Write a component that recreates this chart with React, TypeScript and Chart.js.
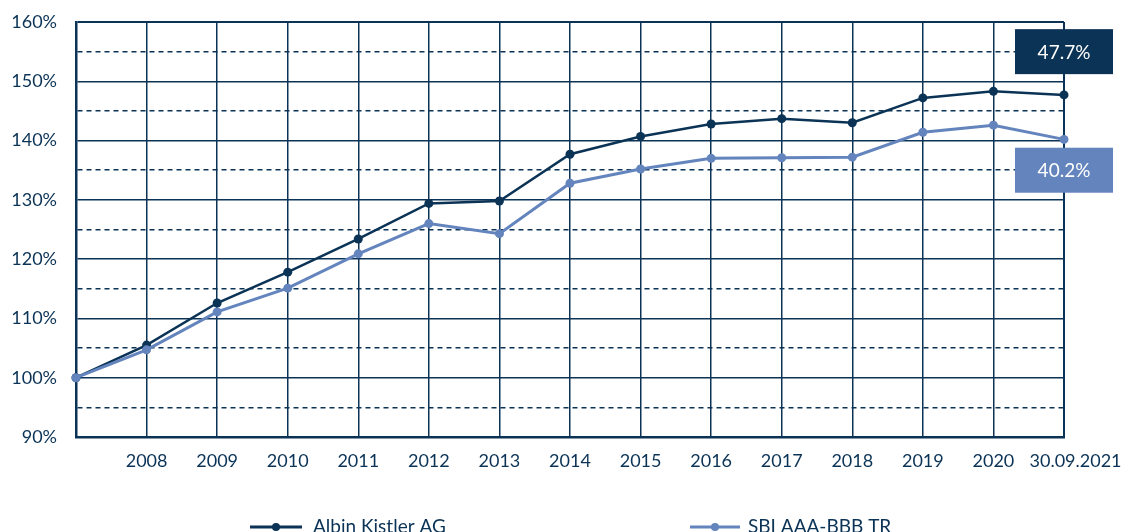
import React, { useEffect, useRef } from "react";
import { Chart, registerables } from "chart.js";

Chart.register(...registerables);

const categories = ["", "2008", "2009", "2010", "2011", "2012", "2013", "2014", "2015", "2016", "2017", "2018", "2019", "2020", "30.09.2021"];
const albinKistler = [100, 105.5, 112.6, 117.8, 123.4, 129.4, 129.8, 137.7, 140.7, 142.8, 143.7, 143.0, 147.2, 148.3, 147.7];
const sbiIndex = [100, 104.7, 111.1, 115.1, 120.9, 126.0, 124.3, 132.8, 135.2, 137.0, 137.1, 137.2, 141.4, 142.6, 140.2];
const seriesNames = ["Albin Kistler AG", "SBI AAA-BBB TR"];
const endLabels = ["47.7%", "40.2%"];
const endLabelValues = [155, 135];
const yMin = 90;
const yMax = 160;

const DARK = "#0b3356";
const LIGHT = "#6384bd";
const FONT = "Lato";

export default function App() {
  const ref = useRef<HTMLCanvasElement | null>(null);

  useEffect(() => {
    if (!ref.current) return;

    const overlay = {
      id: "overlay",
      afterDraw(chart: any) {
        const ctx = chart.ctx;
        const y = chart.scales.y;
        const area = chart.chartArea;
        const colors = [DARK, LIGHT];
        ctx.save();
        endLabels.forEach((txt, i) => {
          const cy = y.getPixelForValue(endLabelValues[i]);
          const w = 98;
          const h = 45;
          const cx = area.right;
          ctx.fillStyle = colors[i];
          ctx.fillRect(cx - w / 2, cy - h / 2, w, h);
          ctx.fillStyle = "#ffffff";
          ctx.font = `19px ${FONT}`;
          ctx.textAlign = "center";
          ctx.textBaseline = "middle";
          ctx.fillText(txt, cx, cy + 1);
        });
        const legendY = 527;
        const items = [
          { x0: 250, x1: 302, tx: 313 },
          { x0: 690, x1: 740, tx: 748 },
        ];
        items.forEach((it, i) => {
          ctx.strokeStyle = colors[i];
          ctx.lineWidth = 3;
          ctx.beginPath();
          ctx.moveTo(it.x0, legendY);
          ctx.lineTo(it.x1, legendY);
          ctx.stroke();
          ctx.fillStyle = colors[i];
          ctx.beginPath();
          ctx.arc((it.x0 + it.x1) / 2, legendY, 4, 0, Math.PI * 2);
          ctx.fill();
          ctx.fillStyle = DARK;
          ctx.font = `19px ${FONT}`;
          ctx.textAlign = "left";
          ctx.textBaseline = "middle";
          ctx.fillText(seriesNames[i], it.tx, legendY);
        });
        ctx.restore();
      },
    };

    const chart = new Chart(ref.current, {
      type: "line",
      data: {
        labels: categories,
        datasets: [
          {
            label: seriesNames[1],
            data: sbiIndex,
            borderColor: LIGHT,
            backgroundColor: LIGHT,
            borderWidth: 3,
            pointRadius: 4.5,
            pointBorderWidth: 0,
            tension: 0,
            clip: false as any,
          },
          {
            label: seriesNames[0],
            data: albinKistler,
            borderColor: DARK,
            backgroundColor: DARK,
            borderWidth: 2.5,
            pointRadius: 4.5,
            pointBorderWidth: 0,
            tension: 0,
            clip: false as any,
          },
        ],
      },
      options: {
        animation: false,
        responsive: false,
        maintainAspectRatio: false,
        layout: { padding: { left: 0, top: 22, right: 58, bottom: 0 } },
        plugins: {
          legend: { display: false },
          tooltip: { enabled: false },
        },
        scales: {
          x: {
            type: "category",
            offset: false,
            afterFit(scale: any) {
              scale.height = 95;
            },
            grid: {
              color: DARK,
              lineWidth: (c: any) => (c.index === 0 || c.index === categories.length - 1 ? 2 : 1.5),
              drawTicks: true,
              tickLength: 13,
              tickColor: "rgba(0,0,0,0)",
            },
            border: { display: true, color: DARK, width: 2.5 },
            ticks: {
              autoSkip: false,
              maxRotation: 0,
              padding: 0,
              color: DARK,
              font: { family: FONT, size: 18 },
              callback: (_v: any, i: number) => (i === categories.length - 1 ? "     " + categories[i] : categories[i]),
            },
          },
          y: {
            type: "linear",
            min: yMin,
            max: yMax,
            afterFit(scale: any) {
              scale.width = 76;
            },
            grid: {
              color: DARK,
              lineWidth: (c: any) => {
                const v = c.tick ? c.tick.value : 0;
                return v === yMax ? 2 : 1.5;
              },
              drawTicks: true,
              tickLength: 19,
              tickColor: "rgba(0,0,0,0)",
            },
            border: {
              display: true,
              color: DARK,
              width: 2.5,
              dash: (c: any) => (c.tick && c.tick.value % 10 !== 0 ? [5, 4] : []),
            } as any,
            ticks: {
              stepSize: 5,
              autoSkip: false,
              padding: 0,
              color: DARK,
              font: { family: FONT, size: 18 },
              callback: (v: any) => (Number(v) % 10 === 0 ? `${v}%` : ""),
            },
          },
        },
      },
      plugins: [overlay],
    });

    return () => chart.destroy();
  }, []);

  return (
    <div style={{ position: "fixed", left: 0, top: 0, width: 1122, height: 532, overflow: "hidden", background: "#fff" }}>
      <canvas ref={ref} width={1122} height={532} style={{ display: "block", width: 1122, height: 532 }} />
    </div>
  );
}
